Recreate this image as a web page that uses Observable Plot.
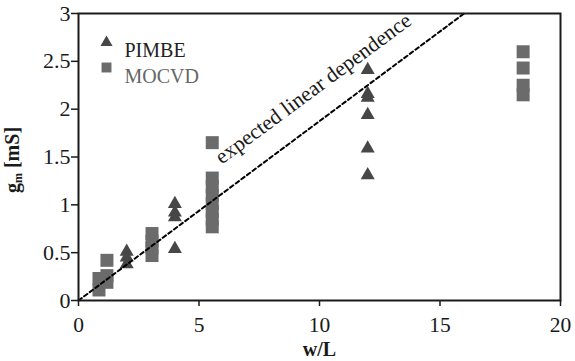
<!DOCTYPE html>
<html><head><meta charset="utf-8">
<script src="https://cdn.jsdelivr.net/npm/d3@7"></script>
<script src="https://cdn.jsdelivr.net/npm/@observablehq/plot@0.6"></script>
<style>body{margin:0;background:#fff} svg text{font-family:"Liberation Serif","Times New Roman",serif}</style>
</head><body><div id="chart"></div>
<script>
// PIMBE (triangles)
const pimbeX = [2, 2, 2, 4, 4, 4, 4, 12, 12, 12, 12, 12, 12];
const pimbeY = [0.51, 0.45, 0.38, 1.01, 0.92, 0.87, 0.54, 2.41, 2.16, 2.12, 1.94, 1.59, 1.31];
// MOCVD (squares)
const mocvdX = [0.85, 0.85, 1.18, 1.18, 1.18, 3.05, 3.05, 3.05, 3.05,
                5.55, 5.55, 5.55, 5.55, 5.55, 5.55, 5.55, 5.55,
                18.45, 18.45, 18.45, 18.45];
const mocvdY = [0.11, 0.23, 0.19, 0.26, 0.42, 0.47, 0.55, 0.62, 0.70,
                0.77, 0.85, 0.93, 1.01, 1.10, 1.19, 1.28, 1.65,
                2.15, 2.25, 2.43, 2.60];
// expected linear dependence
const fitX = [0, 16];
const fitY = [0, 3];
const fitLabel = "expected linear dependence";
const fitLabelX = [9.74];
const fitLabelY = [2.215];
// axes
const xTicks = [0, 5, 10, 15, 20];
const yTicks = [0, 0.5, 1, 1.5, 2, 2.5, 3];
const xLabel = "w/L";
const legendNames = ["PIMBE", "MOCVD"];

const pimbe = pimbeX.map((x, i) => ({x, y: pimbeY[i]}));
const mocvd = mocvdX.map((x, i) => ({x, y: mocvdY[i]}));
const fit = fitX.map((x, i) => ({x, y: fitY[i]}));

const triColor = "#474747";
const sqColor = "#6b6b6b";
const ink = "#1a1a1a";
const serif = "Liberation Serif, Times New Roman, serif";

const chart = Plot.plot({
  width: 575, height: 361,
  marginLeft: 78, marginRight: 15, marginTop: 13, marginBottom: 61,
  x: {domain: [0, 20]},
  y: {domain: [0, 3]},
  style: {fontFamily: serif, fontSize: "22px", color: ink, background: "#fff"},
  marks: [
    Plot.dot(mocvd, {x: "x", y: "y", symbol: "square", r: 7.33, fill: sqColor}),
    Plot.dot(pimbe, {x: "x", y: "y", symbol: "triangle", r: 5.2, fill: triColor}),
    Plot.line(fit, {x: "x", y: "y", stroke: "#000", strokeWidth: 2, strokeDasharray: "4 3"}),
    Plot.text([fitLabel], {x: () => fitLabelX[0], y: () => fitLabelY[0], text: d => d, rotate: -36.5, fontSize: 21.5, fontFamily: serif, fill: ink}),
    // legend
    Plot.dot([legendNames[0]], {frameAnchor: "top-left", dx: 28, dy: 29, symbol: "triangle", r: 4.5, fill: triColor}),
    Plot.text([legendNames[0]], {frameAnchor: "top-left", dx: 46, dy: 29, text: d => d, textAnchor: "start", fontSize: 20, fontFamily: serif, fill: "#222"}),
    Plot.dot([legendNames[1]], {frameAnchor: "top-left", dx: 28, dy: 54, symbol: "square", r: 5.6, fill: sqColor}),
    Plot.text([legendNames[1]], {frameAnchor: "top-left", dx: 46, dy: 55, text: d => d, textAnchor: "start", fontSize: 20, fontFamily: serif, fill: "#666"}),
    Plot.axisX(xTicks, {tickSize: 6, tickPadding: 10, label: null, tickFormat: d => String(d), strokeWidth: 1.5, fontSize: 21.5, fontFamily: serif}),
    Plot.axisY(yTicks, {tickSize: 7, tickPadding: 1, label: null, tickFormat: d => String(d), strokeWidth: 1.5, fontSize: 22, fontFamily: serif}),
    Plot.text([xLabel], {frameAnchor: "bottom", dy: 55, text: d => d, fontWeight: "bold", fontSize: 20, fontFamily: serif, fill: ink}),
    Plot.frame({stroke: ink, strokeWidth: 2})
  ]
});

// y-axis title with subscript
const svg = d3.select(chart);
const yt = svg.append("text")
  .attr("transform", "translate(19,160) rotate(-90)")
  .attr("text-anchor", "middle")
  .attr("font-family", serif)
  .attr("font-weight", "bold")
  .attr("font-size", 20)
  .attr("fill", ink);
yt.append("tspan").text("g");
yt.append("tspan").attr("font-size", 12).attr("dy", 3).text("m");
yt.append("tspan").attr("dy", -3).text(" [mS]");

document.getElementById("chart").appendChild(chart);
</script>
</body></html>
